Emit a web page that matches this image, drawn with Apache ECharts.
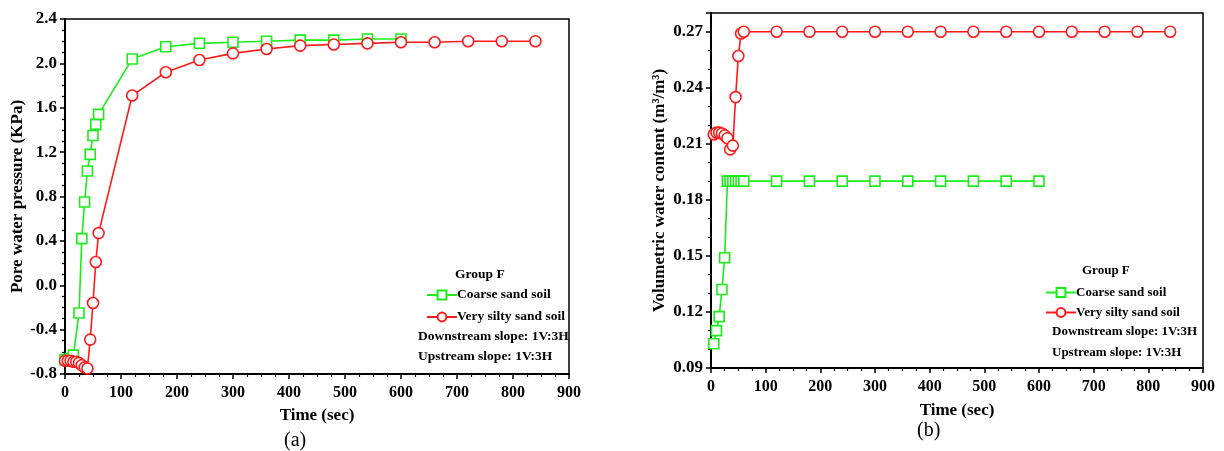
<!DOCTYPE html>
<html>
<head>
<meta charset="utf-8">
<script src="https://cdn.jsdelivr.net/npm/echarts@6/dist/echarts.min.js"></script>
<style>
  html, body { margin: 0; padding: 0; background: #fff; }
  #chart { width: 1224px; height: 451px; }
</style>
</head>
<body>
<div id="chart"></div>
<script>
// (a) pore water pressure, KPa
var timeCoarseA = [0, 5, 10, 15, 25, 30, 35, 40, 45, 50, 55, 60, 120, 180, 240, 300, 360, 420, 480, 540, 600]
var coarseA = [-0.67, -0.67, -0.66, -0.63, -0.25, 0.42, 0.75, 1.03, 1.18, 1.35, 1.45, 1.54, 2.04, 2.15, 2.18, 2.19, 2.20, 2.21, 2.21, 2.22, 2.22]
var timeSiltyA = [0, 5, 10, 15, 20, 25, 30, 35, 40, 45, 50, 55, 60, 120, 180, 240, 300, 360, 420, 480, 540, 600, 660, 720, 780, 840]
var siltyA = [-0.68, -0.68, -0.68, -0.69, -0.69, -0.70, -0.72, -0.74, -0.75, -0.49, -0.16, 0.21, 0.47, 1.71, 1.92, 2.03, 2.09, 2.13, 2.16, 2.17, 2.18, 2.19, 2.19, 2.20, 2.20, 2.20]

// (b) volumetric water content, m3/m3
var timeCoarseB = [5, 10, 15, 20, 25, 30, 35, 40, 45, 50, 55, 60, 120, 180, 240, 300, 360, 420, 480, 540, 600]
var coarseB = [0.103, 0.110, 0.1175, 0.132, 0.149, 0.19, 0.19, 0.19, 0.19, 0.19, 0.19, 0.19, 0.19, 0.19, 0.19, 0.19, 0.19, 0.19, 0.19, 0.19, 0.19]
var timeSiltyB = [5, 10, 15, 20, 25, 30, 35, 40, 45, 50, 55, 60, 120, 180, 240, 300, 360, 420, 480, 540, 600, 660, 720, 780, 840]
var siltyB = [0.215, 0.216, 0.216, 0.2155, 0.2145, 0.213, 0.207, 0.209, 0.235, 0.257, 0.269, 0.27, 0.27, 0.27, 0.27, 0.27, 0.27, 0.27, 0.27, 0.27, 0.27, 0.27, 0.27, 0.27, 0.27]

var seriesNames = ['Coarse sand soil', 'Very silty sand soil']
var noteLines = ['Downstream slope: 1V:3H', 'Upstream slope: 1V:3H']

var FONT = "'Liberation Serif', 'Times New Roman', serif"
var GREEN = '#1aee1a'
var RED = '#ff1a1a'

function pairs(xs, ys) {
  return xs.map(function (x, i) { return [x, ys[i]] })
}

function xAxisFor(gridIndex) {
  return {
    type: 'value',
    gridIndex: gridIndex,
    min: 0,
    max: 900,
    interval: 100,
    name: 'Time (sec)',
    nameLocation: 'middle',
    nameGap: gridIndex === 0 ? 33 : 34,
    nameTextStyle: { fontFamily: FONT, fontWeight: 'bold', fontSize: 17, color: '#000' },
    axisLine: { show: true, onZero: false, lineStyle: { color: '#000', width: 2 } },
    axisTick: { show: true, inside: false, length: 5, lineStyle: { color: '#000', width: 1.5 } },
    minorTick: { show: true, splitNumber: 4, length: 3, lineStyle: { color: '#000', width: 1.2 } },
    splitLine: { show: false },
    axisLabel: { fontFamily: FONT, fontWeight: 'bold', fontSize: 16, color: '#000', margin: 11 }
  }
}

function yAxisFor(gridIndex, min, max, interval, minorSplit, name, gap, digits) {
  return {
    type: 'value',
    gridIndex: gridIndex,
    min: min,
    max: max,
    interval: interval,
    name: name,
    nameLocation: 'middle',
    nameGap: gap,
    nameTextStyle: { fontFamily: FONT, fontWeight: 'bold', fontSize: 17, color: '#000' },
    axisLine: { show: true, onZero: false, lineStyle: { color: '#000', width: 2 } },
    axisTick: { show: true, inside: false, length: 5, lineStyle: { color: '#000', width: 1.5 } },
    minorTick: { show: true, splitNumber: minorSplit, length: 3, lineStyle: { color: '#000', width: 1.2 } },
    splitLine: { show: false },
    axisLabel: {
      fontFamily: FONT, fontWeight: 'bold', fontSize: 17, color: '#000', margin: 8,
      showMaxLabel: gridIndex === 0,
      formatter: function (v) { return v.toFixed(digits) }
    }
  }
}

function lineSeries(name, xi, yi, data, color, symbol, size) {
  return {
    name: name,
    type: 'line',
    xAxisIndex: xi,
    yAxisIndex: yi,
    data: data,
    symbol: symbol,
    symbolSize: size,
    showAllSymbol: true,
    lineStyle: { color: color, width: 1.6 },
    itemStyle: { color: '#fff', borderColor: color, borderWidth: 1.6 },
    animation: false
  }
}

function legendFor(left, top, gap, size) {
  return {
    left: left,
    top: top,
    orient: 'vertical',
    itemWidth: 30,
    itemHeight: 11,
    itemGap: gap,
    data: seriesNames.map(function (n) { return { name: n } }),
    textStyle: { fontFamily: FONT, fontWeight: 'bold', fontSize: size, color: '#000', padding: [0, 0, 0, -5] },
    selectedMode: false
  }
}

function txt(x, y, s, size) {
  return {
    type: 'text', left: x, top: y,
    style: { text: s, fontFamily: FONT, fontWeight: 'bold', fontSize: size, fill: '#000' }
  }
}

var chart = echarts.init(document.getElementById('chart'))

chart.setOption({
  backgroundColor: '#fff',
  animation: false,
  grid: [
    { left: 65, right: 655, top: 19, bottom: 77, show: true, borderColor: '#000', borderWidth: 1.5 },
    { left: 711, right: 21, top: 13, bottom: 83, show: true, borderColor: '#000', borderWidth: 1.5 }
  ],
  xAxis: [xAxisFor(0), xAxisFor(1)],
  yAxis: [
    yAxisFor(0, -0.8, 2.4, 0.4, 4, 'Pore water pressure (KPa)', 35, 1),
    yAxisFor(1, 0.09, 0.28, 0.03, 3, 'Volumetric water content (m\u00b3/m\u00b3)', 43, 2)
  ],
  legend: [legendFor(421, 283, 8, 13.5), legendFor(1040, 281, 7, 13)],
  series: [
    lineSeries(seriesNames[0], 0, 0, pairs(timeCoarseA, coarseA), GREEN, 'rect', 10),
    lineSeries(seriesNames[1], 0, 0, pairs(timeSiltyA, siltyA), RED, 'circle', 11),
    lineSeries(seriesNames[0], 1, 1, pairs(timeCoarseB, coarseB), GREEN, 'rect', 10),
    lineSeries(seriesNames[1], 1, 1, pairs(timeSiltyB, siltyB), RED, 'circle', 11)
  ],
  graphic: [
    txt(455, 268, 'Group F', 13.5),
    txt(418, 330, noteLines[0], 13.5),
    txt(418, 350, noteLines[1], 13.5),
    txt(1082, 264, 'Group F', 13),
    txt(1052, 325, noteLines[0], 13),
    txt(1052, 346, noteLines[1], 13),
    { type: 'text', left: 284, top: 431, style: { text: '(a)', fontFamily: FONT, fontSize: 20, fill: '#000' } },
    { type: 'text', left: 917, top: 421, style: { text: '(b)', fontFamily: FONT, fontSize: 20, fill: '#000' } }
  ]
})
</script>
</body>
</html>
